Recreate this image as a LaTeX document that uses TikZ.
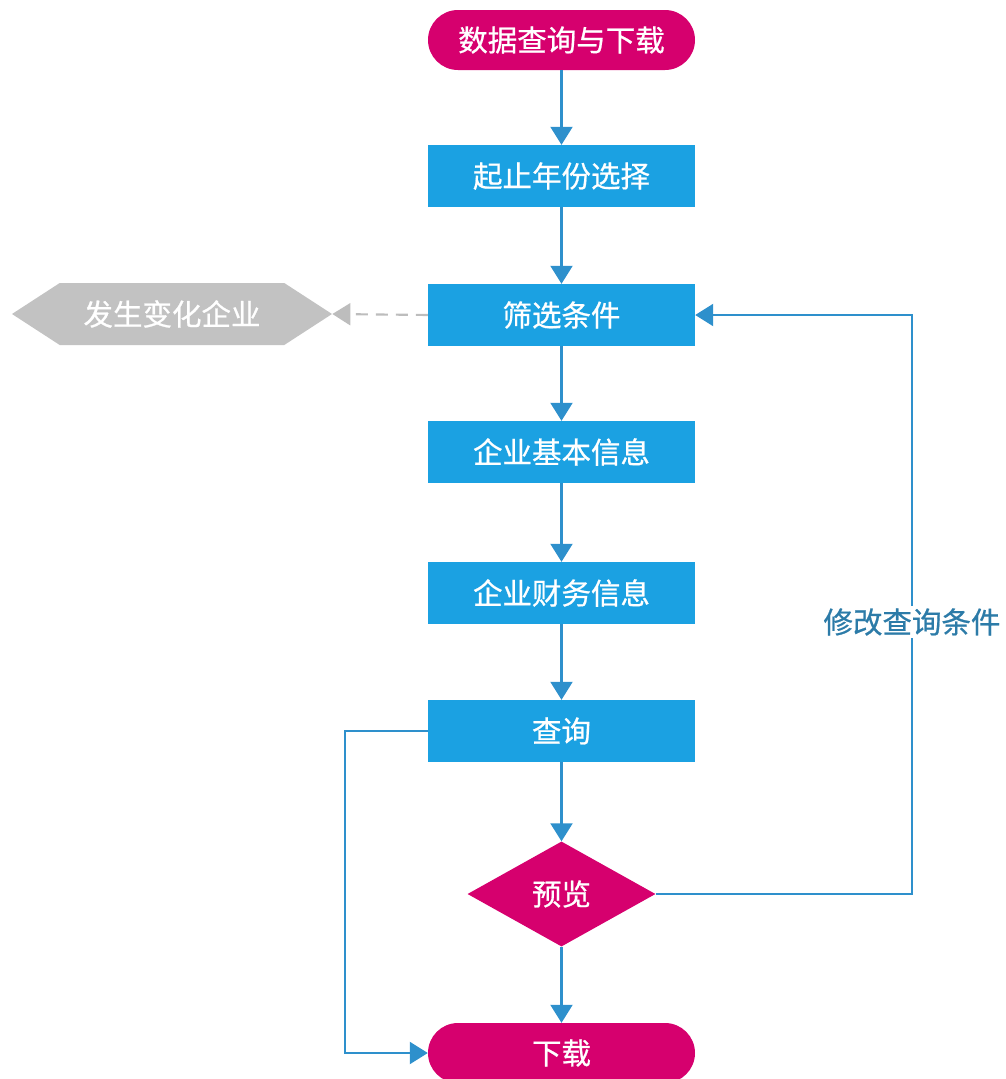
\documentclass[tikz,border=0pt]{standalone}
\usepackage{fontspec}
\newfontfamily\cjk[FakeBold=0.7]{Noto Sans CJK SC}
\usetikzlibrary{arrows.meta,shapes.geometric,shapes.symbols}
\definecolor{boxblue}{HTML}{1BA1E2}
\definecolor{termpink}{HTML}{D6006E}
\definecolor{connblue}{HTML}{2E90CC}
\definecolor{hexgrey}{HTML}{C2C2C2}
\definecolor{dashgrey}{HTML}{BDBDBD}
\definecolor{labelblue}{HTML}{2C7BA8}
\begin{document}
\begin{tikzpicture}[x=1pt,y=-1pt,
  txt/.style={text=white, font=\cjk\fontsize{29.5}{33}\selectfont, inner sep=0pt},
  proc/.style={txt, fill=boxblue, minimum width=267pt, minimum height=62pt},
  term/.style={txt, fill=termpink, rounded corners=30pt, minimum width=267pt, minimum height=60pt},
  decide/.style={txt, diamond, fill=termpink, minimum width=188pt, minimum height=105pt},
  hexa/.style={txt, signal, signal to=west and east, signal pointer angle=66, fill=hexgrey, minimum width=320pt, minimum height=62pt},
  conn/.style={draw=connblue, line width=2.1pt, -{Triangle[width=22pt,length=18pt]}},
  dashconn/.style={draw=dashgrey, line width=2.1pt, dash pattern=on 12pt off 8pt, -{Triangle[width=22pt,length=18pt]}},
  lbl/.style={fill=white, text=labelblue, font=\cjk\fontsize{29.5}{33}\selectfont, inner sep=2pt}
]
\useasboundingbox (0,0) rectangle (1005,1079);

\node[term] (start) at (561.5,40) {数据查询与下载};
\node[proc] (years) at (561.5,176) {起止年份选择};
\node[proc] (filter) at (561.5,315) {筛选条件};
\node[proc] (basic) at (561.5,452) {企业基本信息};
\node[proc] (fin) at (561.5,593) {企业财务信息};
\node[proc] (query) at (561.5,731) {查询};
\node[decide] (preview) at (561.5,894) {预览};
\node[term] (down) at (561.5,1053) {下载};
\node[hexa] (changed) at (172,314) {发生变化企业};

\coordinate (fbA) at (912,894);
\coordinate (fbB) at (912,315);
\coordinate (lpA) at (345,731);
\coordinate (lpB) at (345,1053);

\draw[conn] (start) -- (years);
\draw[conn] (years) -- (filter);
\draw[conn] (filter) -- (basic);
\draw[conn] (basic) -- (fin);
\draw[conn] (fin) -- (query);
\draw[conn] (query) -- (preview);
\draw[conn] (preview) -- (down);
\draw[dashconn] (filter.west) -- (changed.east);
\draw[conn] (preview.east) -- (fbA) -- (fbB) -- (filter.east);
\draw[conn] (query.west) -- (lpA) -- (lpB) -- (down.west);
\node[lbl] (modify) at (912,622) {修改查询条件};
\end{tikzpicture}
\end{document}
